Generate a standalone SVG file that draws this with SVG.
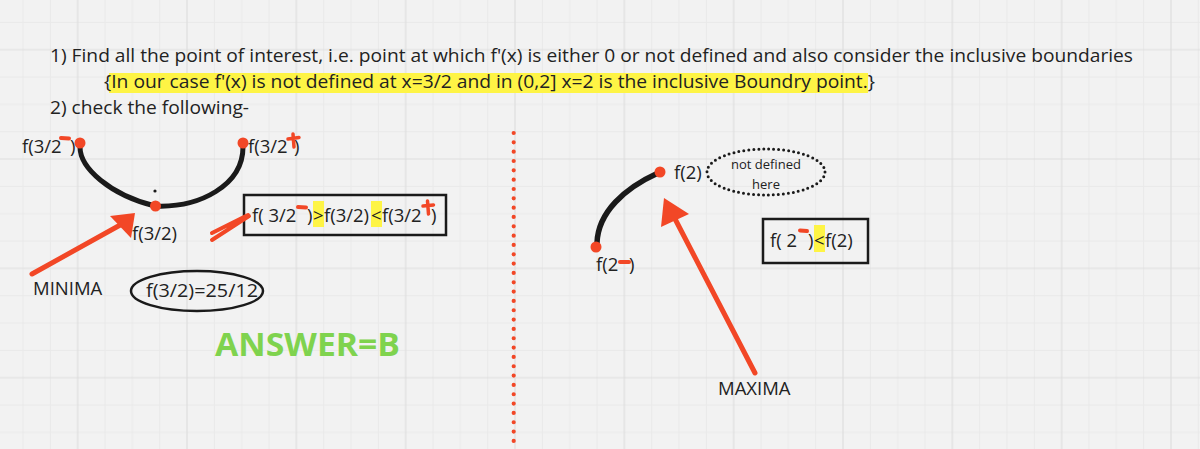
<svg xmlns="http://www.w3.org/2000/svg" width="1200" height="449" viewBox="0 0 1200 449">
<defs>
<pattern id="grid" width="109.33" height="109.33" patternUnits="userSpaceOnUse" x="76.7" y="48.7">
<path d="M28.33 0V109.33M55.67 0V109.33M83 0V109.33M0 28.33H109.33M0 55.67H109.33M0 83H109.33" stroke="#e9e9e9" stroke-width="1" fill="none"/>
<path d="M1 0V109.33M0 1H109.33" stroke="#dedede" stroke-width="1.2" fill="none"/>
</pattern>
<style>
.t{font-family:"Open Sans","Liberation Sans",sans-serif;fill:#222;}
.s17{font-size:18.5px;}
.s18{font-size:18.5px;}
.red{stroke:#f24726;stroke-linecap:round;fill:none;}
.rf{fill:#f24726;}
.hl{fill:#fef445;}
.box{fill:none;stroke:#1a1a1a;stroke-width:2.5;}
</style>
</defs>
<rect width="1200" height="449" fill="#f2f2f2"/>
<rect width="1200" height="449" fill="url(#grid)"/>

<g id="instructions">
<rect class="hl" x="109" y="73" width="759" height="20"/>
<text class="t s17" x="50" y="62" textLength="1083" lengthAdjust="spacingAndGlyphs">1) Find all the point of interest, i.e. point at which f'(x) is either 0 or not defined and also consider the inclusive boundaries</text>
<text class="t s17" x="104" y="88" textLength="771" lengthAdjust="spacingAndGlyphs">{In our case f'(x) is not defined at x=3/2 and in (0,2] x=2 is the inclusive Boundry point.}</text>
<text class="t s17" x="50" y="114" textLength="199" lengthAdjust="spacingAndGlyphs">2) check the following-</text>
</g>

<g id="divider">
<line x1="513.7" y1="133" x2="513.7" y2="443" stroke="#f24726" stroke-width="4.2" stroke-linecap="round" stroke-dasharray="0 9.33"/>
</g>

<g id="minima-curve">
<path d="M80 147 C80 168 110 195 155 206 C200 208 243 185 243 147" fill="none" stroke="#1a1a1a" stroke-width="5" stroke-linecap="round"/>
<circle class="rf" cx="80" cy="143" r="5.5"/>
<circle class="rf" cx="155.5" cy="206" r="5.5"/>
<circle class="rf" cx="243" cy="143" r="5.5"/>
<circle cx="155" cy="191" r="1.6" fill="#1a1a1a"/>
</g>

<g id="label-left">
<text class="t s18" x="22" y="153">f(3/2</text>
<text class="t s18" x="70" y="153">)</text>
<line class="red" x1="61" y1="138" x2="69" y2="138.5" stroke-width="4"/>
</g>

<g id="label-right">
<text class="t s18" x="248" y="153">f(3/2</text>
<text class="t s18" x="294" y="153">)</text>
<path class="red" d="M293 134 L294 147 M288 139 L299 137.5" stroke-width="3.5"/>
</g>

<g id="label-center">
<text class="t s18" x="132" y="240">f(3/2)</text>
</g>

<g id="minima-arrow">
<line class="red" x1="32" y1="274" x2="122" y2="224" stroke-width="5"/>
<polygon class="rf" points="110,216 135,213 131,238"/>
<text class="t s18" x="33" y="295">MINIMA</text>
</g>

<g id="value-ellipse">
<ellipse cx="197" cy="291" rx="66" ry="20" fill="none" stroke="#1a1a1a" stroke-width="2.5"/>
<text class="t s18" x="146" y="297" textLength="112" lengthAdjust="spacingAndGlyphs">f(3/2)=25/12</text>
</g>

<g id="compare-left">
<rect class="box" x="244" y="195" width="202" height="40"/>
<rect class="hl" x="313" y="201" width="11" height="26"/>
<rect class="hl" x="371" y="201" width="11" height="26"/>
<text class="t s18" x="252" y="222">f( 3/2</text>
<text class="t s18" x="307" y="222">)</text>
<text class="t s18" x="313" y="222">&gt;</text>
<text class="t s18" x="324" y="222">f(3/2)</text>
<text class="t s18" x="371" y="222">&lt;</text>
<text class="t s18" x="382" y="222">f(3/2</text>
<text class="t s18" x="431" y="222">)</text>
<line class="red" x1="298" y1="207" x2="306" y2="207.5" stroke-width="4"/>
<path class="red" d="M427.5 201 L428.5 214 M423 206 L433.5 205" stroke-width="3.5"/>
<path class="red" d="M212 233 L248 215 M212 240 L249 216" stroke-width="4"/>
</g>

<g id="answer">
<text x="215" y="356" font-family="'Open Sans','Liberation Sans',sans-serif" font-weight="bold" font-size="32" fill="#7fd34e" textLength="185" lengthAdjust="spacingAndGlyphs">ANSWER=B</text>
</g>

<g id="maxima-curve">
<path d="M658 173 C625 188 598 212 597 243" fill="none" stroke="#1a1a1a" stroke-width="5.5" stroke-linecap="round"/>
<circle class="rf" cx="660" cy="172" r="5.5"/>
<circle class="rf" cx="596" cy="247" r="5.5"/>
<text class="t s18" x="674" y="179">f(2)</text>
<text class="t s18" x="596" y="271">f(2</text>
<text class="t s18" x="629" y="271">)</text>
<line class="red" x1="620" y1="262" x2="629" y2="262" stroke-width="4"/>
</g>

<g id="not-defined">
<ellipse cx="766" cy="172" rx="59" ry="23" fill="none" stroke="#1a1a1a" stroke-width="3" stroke-linecap="round" stroke-dasharray="0 5"/>
<text class="t" x="766" y="169" font-size="13" text-anchor="middle">not defined</text>
<text class="t" x="766" y="189" font-size="13" text-anchor="middle">here</text>
</g>

<g id="compare-right">
<rect class="box" x="763" y="219" width="105" height="44"/>
<rect class="hl" x="814" y="225" width="11" height="27"/>
<text class="t s18" x="770" y="247">f( 2</text>
<text class="t s18" x="808" y="247">)</text>
<text class="t s18" x="814" y="247">&lt;</text>
<text class="t s18" x="825" y="247">f(2)</text>
<line class="red" x1="800" y1="230.5" x2="807" y2="231" stroke-width="4"/>
</g>

<g id="maxima-arrow">
<line class="red" x1="755" y1="373" x2="673" y2="215" stroke-width="5"/>
<polygon class="rf" points="664,198 689,214 661,227"/>
<text class="t s18" x="718" y="395">MAXIMA</text>
</g>
</svg>
